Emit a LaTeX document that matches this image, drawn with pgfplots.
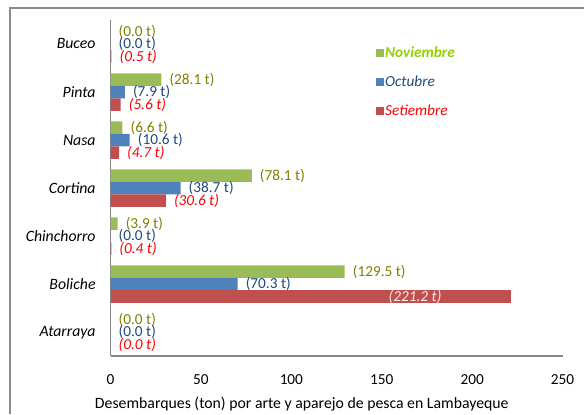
\documentclass[border=0pt]{standalone}
\usepackage{pgfplots}
\pgfplotsset{compat=1.18}
\usepackage{fontspec}
\setmainfont{Carlito}
\definecolor{gbar}{RGB}{155,187,89}
\definecolor{bbar}{RGB}{79,129,189}
\definecolor{rbar}{RGB}{192,80,77}
\definecolor{glab}{RGB}{128,128,0}
\definecolor{blab}{RGB}{31,73,125}
\definecolor{rlab}{RGB}{255,0,0}
\definecolor{gleg}{RGB}{146,208,0}
\definecolor{axgray}{RGB}{134,134,134}
\definecolor{framegray}{RGB}{140,140,140}
\begin{document}
\begin{tikzpicture}
\path (-110.7bp,-57.3bp) rectangle (473.3bp,356.7bp);
\draw[framegray, line width=1.5bp, line cap=rect] (-100.7bp,-57.3bp) -- (-100.7bp,348.5bp) -- (473.3bp,348.5bp);
\begin{axis}[
  overlay,
  at={(0,0)}, anchor=south west,
  scale only axis,
  width=452.6bp, height=336.7bp,
  xbar,
  xmin=0, xmax=250,
  ymin=-0.5, ymax=6.5,
  xtick={0,50,100,150,200,250},
  ytick={0,1,2,3,4,5,6},
  yticklabels={Atarraya,Boliche,Chinchorro,Cortina,Nasa,Pinta,Buceo},
  major tick length=0pt,
  axis x line*=bottom, axis y line*=left,
  axis line style={draw=axgray, line width=1.5bp},
  /pgf/number format/assume math mode=true,
  font=\fontsize{15.3bp}{18bp}\selectfont,
  tick label style={font=\fontsize{15.3bp}{18bp}\selectfont},
  yticklabel style={font=\fontsize{15.8bp}{18bp}\selectfont\itshape, xshift=-11.5bp},
  xticklabel style={yshift=-15bp},
  xlabel={Desembarques (ton) por arte y aparejo de pesca en Lambayeque},
  xlabel style={at={(axis description cs:0.423,-0.143)}, anchor=center, font=\fontsize{15.8bp}{18bp}\selectfont},
  bar width=0.26,
  legend image code/.code={\fill[#1,draw=none] (0bp,-4bp) rectangle (8bp,4bp);},
  legend style={draw=none, fill=none, at={(0.586,0.926)}, anchor=north west,
    row sep=14bp, inner sep=0pt, font=\fontsize{15.3bp}{18bp}\selectfont,
    nodes={inner sep=1.5bp}},
  legend cell align=left,
  nodes near coords={(\pgfmathprintnumber[fixed,fixed zerofill,precision=1]{\pgfplotspointmeta}~t)},
  nodes near coords style={font=\fontsize{15.3bp}{18bp}\selectfont, inner sep=0pt, anchor=west, xshift=8bp},
]
\addplot[fill=gbar, draw=none, bar shift=0.26, nodes near coords style={text=glab}]
  coordinates {(0.0,0) (129.5,1) (3.9,2) (78.1,3) (6.6,4) (28.1,5) (0.0,6)};
\addplot[fill=bbar, draw=none, bar shift=0, nodes near coords style={text=blab}]
  coordinates {(0.0,0) (70.3,1) (0.0,2) (38.7,3) (10.6,4) (7.9,5) (0.0,6)};
\addplot[fill=rbar, draw=none, bar shift=-0.26, nodes near coords style={text=rlab, font=\fontsize{15.3bp}{18bp}\selectfont\itshape}]
  coordinates {(0.0,0) (0.4,2) (30.6,3) (4.7,4) (5.6,5) (0.5,6)};
\addplot[fill=rbar, draw=none, bar shift=-0.26, forget plot, nodes near coords style={text=white!88!rbar, anchor=east, xshift=-77bp, font=\fontsize{15.3bp}{18bp}\selectfont\itshape}]
  coordinates {(221.2,1)};
\legend{\textcolor{gleg}{\textbf{\textit{Noviembre}}},\textcolor{blab}{\textit{Octubre}},\textcolor{rlab}{\textit{Setiembre}}}
\end{axis}
\end{tikzpicture}
\end{document}
